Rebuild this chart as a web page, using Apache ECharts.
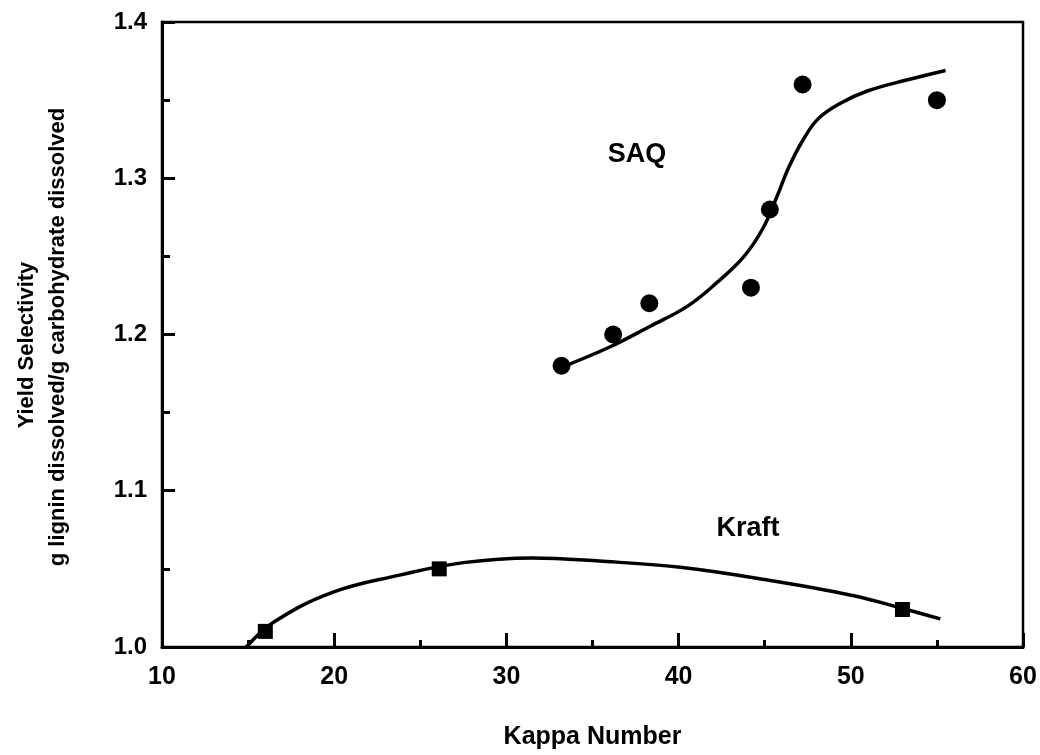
<!DOCTYPE html>
<html>
<head>
<meta charset="utf-8">
<script src="https://cdn.jsdelivr.net/npm/echarts@6/dist/echarts.min.js"></script>
<style>
  html, body { margin: 0; padding: 0; background: #fff; }
  #chart { width: 1040px; height: 755px; }
</style>
</head>
<body>
<div id="chart"></div>
<script>
// Measured points: kappa number vs yield selectivity
const saqKappa = [33.2, 36.2, 38.3, 44.2, 45.3, 47.2, 55.0];
const saqSelectivity = [1.18, 1.20, 1.22, 1.23, 1.28, 1.36, 1.35];

const kraftKappa = [16.0, 26.1, 53.0];
const kraftSelectivity = [1.01, 1.05, 1.024];

// Hand-fitted trend curves
const saqCurveKappa = [33.2, 36.0, 38.3, 40.5, 42.2, 43.8, 44.9, 45.7, 46.4, 47.2, 48.1, 49.4, 51.0, 53.3, 55.5];
const saqCurveValue = [1.179, 1.192, 1.205, 1.218, 1.233, 1.25, 1.268, 1.288, 1.307, 1.324, 1.338, 1.348, 1.356, 1.363, 1.369];

const kraftCurveKappa = [14.9, 16.5, 19.9, 23.8, 27.5, 31.5, 35.4, 40.1, 45.1, 50.1, 52.9, 55.2];
const kraftCurveValue = [1.0, 1.016, 1.035, 1.046, 1.054, 1.057, 1.055, 1.051, 1.043, 1.033, 1.025, 1.018];

const xTicks = { min: 10, max: 60, step: 10 };
const yTicks = { min: 1.0, max: 1.4, step: 0.1 };

const zip = (xs, ys) => xs.map((x, i) => [x, ys[i]]);

const FONT = '"Liberation Sans", Arial, Helvetica, sans-serif';

const chart = echarts.init(document.getElementById('chart'));
chart.setOption({
  animation: false,
  backgroundColor: '#fff',
  textStyle: { fontFamily: FONT, color: '#000', fontWeight: 'bold' },
  grid: {
    left: 162, right: 17, top: 22, bottom: 108,
    show: true, borderColor: '#000', borderWidth: 2.5
  },
  xAxis: {
    type: 'value',
    min: xTicks.min, max: xTicks.max, interval: xTicks.step,
    name: 'Kappa Number',
    nameLocation: 'middle',
    nameGap: 78,
    nameTextStyle: { fontSize: 25, color: '#000', fontFamily: FONT, fontWeight: 'bold' },
    axisLine: { show: true, lineStyle: { color: '#000', width: 3 } },
    axisTick: { show: true, inside: true, length: 14, lineStyle: { color: '#000', width: 3 } },
    minorTick: { show: true, splitNumber: 2, length: 7, lineStyle: { color: '#000', width: 3 } },
    axisLabel: { fontSize: 25, color: '#000', margin: 18, fontFamily: FONT, fontWeight: 'bold' },
    splitLine: { show: false }
  },
  yAxis: {
    type: 'value',
    min: yTicks.min, max: yTicks.max, interval: yTicks.step,
    axisLine: { show: true, lineStyle: { color: '#000', width: 3 } },
    axisTick: { show: true, inside: true, length: 13, lineStyle: { color: '#000', width: 3 } },
    minorTick: { show: true, splitNumber: 2, length: 8, lineStyle: { color: '#000', width: 3 } },
    axisLabel: {
      fontSize: 24, color: '#000', margin: 15, fontFamily: FONT, fontWeight: 'bold',
      formatter: v => v.toFixed(1)
    },
    splitLine: { show: false }
  },
  graphic: [
    {
      type: 'text', x: 27, y: 345, rotation: Math.PI / 2,
      style: { text: 'Yield Selectivity', font: 'bold 22px ' + FONT, fill: '#000', align: 'center', verticalAlign: 'middle' }
    },
    {
      type: 'text', x: 58, y: 337, rotation: Math.PI / 2,
      style: { text: 'g lignin dissolved/g carbohydrate dissolved', font: 'bold 22px ' + FONT, fill: '#000', align: 'center', verticalAlign: 'middle' }
    },
    {
      type: 'text', x: 637, y: 155,
      style: { text: 'SAQ', font: 'bold 27px ' + FONT, fill: '#000', align: 'center', verticalAlign: 'middle' }
    },
    {
      type: 'text', x: 748, y: 529,
      style: { text: 'Kraft', font: 'bold 27px ' + FONT, fill: '#000', align: 'center', verticalAlign: 'middle' }
    }
  ],
  series: [
    {
      name: 'SAQ fit', type: 'line', smooth: 0.4, showSymbol: false,
      data: zip(saqCurveKappa, saqCurveValue),
      lineStyle: { color: '#000', width: 3.5 }, z: 2
    },
    {
      name: 'Kraft fit', type: 'line', smooth: 0.4, showSymbol: false,
      data: zip(kraftCurveKappa, kraftCurveValue),
      lineStyle: { color: '#000', width: 3.5 }, z: 2
    },
    {
      name: 'SAQ', type: 'scatter', symbol: 'circle', symbolSize: 18,
      data: zip(saqKappa, saqSelectivity),
      itemStyle: { color: '#000', opacity: 1 }, z: 3
    },
    {
      name: 'Kraft', type: 'scatter', symbol: 'rect', symbolSize: 15,
      data: zip(kraftKappa, kraftSelectivity),
      itemStyle: { color: '#000', opacity: 1 }, z: 3
    }
  ]
});
</script>
</body>
</html>
